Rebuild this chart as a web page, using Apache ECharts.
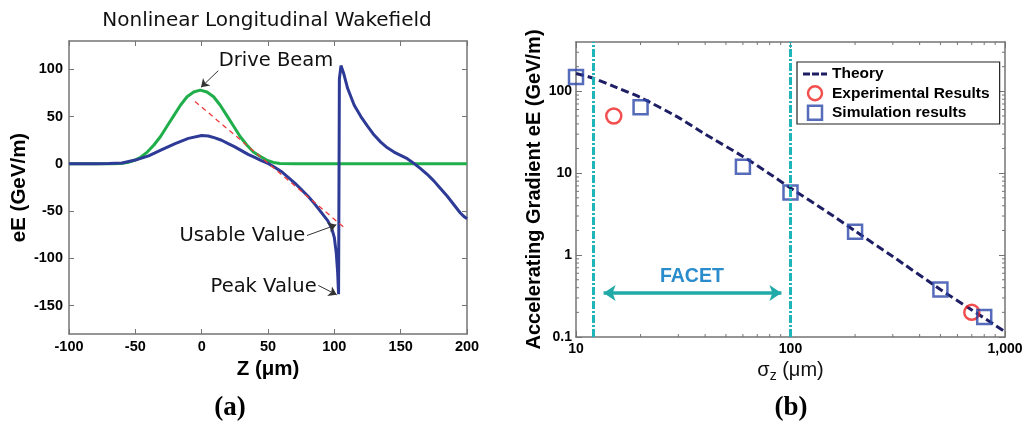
<!DOCTYPE html>
<html><head><meta charset="utf-8">
<script src="https://cdn.jsdelivr.net/npm/echarts@6/dist/echarts.min.js"></script>
<style>html,body{margin:0;padding:0;background:#fff}#c{width:1026px;height:425px}</style>
</head><body><div id="c"></div>
<script>
// ---------- Panel (a): Nonlinear Longitudinal Wakefield ----------
const zBlue = [-100,-80,-70,-60,-50,-40,-30,-20,-10,0,5,10,15,20,25,30,35,40,45,50,55,60,65,70,75,80,85,90,95,98,100,101.5,102.5,103.2,103.8,105,107,110,115,120,125,130,135,140,145,150,155,160,165,170,175,180,185,190,195,198,200];
const eBlue = [0,0,0.3,1,4,8.5,15,21.5,27,30,29.5,27.5,25,21.5,18,14,10,6.8,3.5,0.5,-3.5,-8,-14,-20,-27,-34,-42,-51,-60,-68,-78,-95,-115,-138,90,104,96,80,62,50,40,30.5,23,17,12.5,9,5.5,0.5,-5,-11,-18,-26,-34,-43,-52,-56,-58];
const zGreen = [-100,-70,-61,-56,-51,-46,-41,-36,-31,-26,-21,-16,-11,-6,-1,4,9,14,19,24,29,34,39,44,49,54,59,70,200];
const eGreen = [0,0,0.5,1.5,3.5,7,12.5,20,29,40,51,62,71,76,78,76,71,62,51,40,29,20,12.5,8,4,1.5,0.5,0,0];
const zUsable = [-5,108];
const eUsable = [66,-68];
const xTicksA = [-100,-50,0,50,100,150,200];
const yTicksA = [-150,-100,-50,0,50,100];

// ---------- Panel (b): gradient vs bunch length ----------
const sigmaTheory = [10,12,15,20,30,40,60,80,100,150,200,300,500,700,1000];
const eTheory = [165,145,115,84,48,30,16,9.8,6.6,3.3,1.97,0.96,0.38,0.214,0.116];
const sigmaExp = [15,700];
const eExp = [50,0.2];
const sigmaSim = [10,20,60,100,200,500,800];
const eSim = [150,64,12,5.8,1.93,0.38,0.176];
const facetLimits = [12,100];
const facetArrow = [13.45,90.7];
const facetArrowLevel = 0.345;
const xTicksB = [10,100,1000];
const yTicksB = [0.1,1,10,100];
const xMinorB = [20,30,40,50,60,70,80,90,200,300,400,500,600,700,800,900];
const yMinorB = [0.2,0.3,0.4,0.5,0.6,0.7,0.8,0.9,2,3,4,5,6,7,8,9,20,30,40,50,60,70,80,90,200,300];

const FS = 'Liberation Sans';
const frame = '#747474';
const pairs = (xs, ys) => xs.map((x, i) => [x, ys[i]]);

const chart = echarts.init(document.getElementById('c'), null, {renderer: 'canvas', width: 1026, height: 425});

const boldTxt = (size) => ({fontFamily: FS, fontWeight: 'bold', fontSize: size, color: '#000'});
const axisBase = (extra) => Object.assign({
  axisLine: {show: true, onZero: false, lineStyle: {color: frame, width: 1.5}},
  axisTick: {show: true, inside: true, length: 5, lineStyle: {color: frame, width: 1}},
  splitLine: {show: false},
  minorTick: {show: false}
}, extra);

function minorTickSeries(values, dir) {
  return {
    type: 'custom', xAxisIndex: 2, yAxisIndex: 2, silent: true, clip: false, z: 5,
    data: values.map(v => dir === 'x' ? [v, 1] : [10, v]),
    renderItem: function (params, api) {
      const cs = params.coordSys;
      const p = api.coord([api.value(0), api.value(1)]);
      const st = {stroke: frame, lineWidth: 1};
      if (dir === 'x') {
        return {type: 'group', children: [
          {type: 'line', shape: {x1: p[0], y1: cs.y + cs.height, x2: p[0], y2: cs.y + cs.height - 3}, style: st},
          {type: 'line', shape: {x1: p[0], y1: cs.y, x2: p[0], y2: cs.y + 3}, style: st}
        ]};
      }
      return {type: 'group', children: [
        {type: 'line', shape: {x1: cs.x, y1: p[1], x2: cs.x + 3, y2: p[1]}, style: st},
        {type: 'line', shape: {x1: cs.x + cs.width, y1: p[1], x2: cs.x + cs.width - 3, y2: p[1]}, style: st}
      ]};
    }
  };
}

const annFont = {fontFamily: 'DejaVu Sans', fontSize: 19.5, color: '#111'};
const arrowLine = (a, b) => [{coord: a}, {coord: b}];
const textPoint = (coord, text) => ({coord: coord, value: text, label: {show: true, position: 'inside', formatter: text}});

const theoryColor = '#1e1e64';

const option = {
  animation: false,
  backgroundColor: '#fff',
  title: [
    {text: 'Nonlinear Longitudinal Wakefield', left: 267, top: 11, padding: 0, textAlign: 'center',
     textStyle: {fontFamily: 'DejaVu Sans', fontSize: 20, fontWeight: 'normal', color: '#111'}},
    {text: '(a)', left: 230, top: 395, padding: 0, textAlign: 'center',
     textStyle: {fontFamily: 'Liberation Serif', fontSize: 27, fontWeight: 'bold', color: '#000'}},
    {text: '(b)', left: 791, top: 395, padding: 0, textAlign: 'center',
     textStyle: {fontFamily: 'Liberation Serif', fontSize: 27, fontWeight: 'bold', color: '#000'}}
  ],
  legend: {
    data: [
      {name: 'Theory', icon: 'path://M0,0H7V3H0Z M9,0H16V3H9Z M18,0H24V3H18Z', itemStyle: {color: theoryColor, borderWidth: 0}},
      {name: 'Experimental Results', icon: 'circle'},
      {name: 'Simulation results', icon: 'path://M0,0H14V14H0Z'}
    ],
    orient: 'vertical', left: 797, top: 62, padding: [4, 10, 3, 6], itemGap: 3,
    itemWidth: 24, itemHeight: 14, backgroundColor: '#fff', borderColor: '#222', borderWidth: 1.2,
    selectedMode: false,
    textStyle: boldTxt(15.5),
    itemStyle: {borderWidth: 2.5}
  },
  grid: [
    {left: 69, top: 41, width: 398, height: 293},
    {left: 576, top: 42, width: 429, height: 295}
  ],
  xAxis: [
    axisBase({gridIndex: 0, type: 'value', min: -100, max: 200, interval: 50, position: 'bottom',
      axisLabel: Object.assign({margin: 5, customValues: xTicksA}, boldTxt(14.5)),
      name: 'Z (μm)', nameLocation: 'middle', nameGap: 20, nameTextStyle: boldTxt(20.5)}),
    axisBase({gridIndex: 0, type: 'value', min: -100, max: 200, interval: 50, position: 'top',
      axisLabel: {show: false}}),
    axisBase({gridIndex: 1, type: 'log', logBase: 10, min: 10, max: 1000, position: 'bottom',
      axisTick: {show: true, inside: true, length: 6, lineStyle: {color: frame}, customValues: xTicksB},
      axisLabel: Object.assign({margin: 5, customValues: xTicksB,
        formatter: v => { const r = Math.round(v); return r === 1000 ? '1,000' : String(r); }}, boldTxt(14)),
      name: '{a|σ}{s|z}{a| (μm)}', nameLocation: 'middle', nameGap: 17,
      nameTextStyle: {rich: {a: {fontFamily: FS, fontSize: 20, color: '#111'}, s: {fontFamily: FS, fontSize: 14, color: '#111', padding: [10, 0, 0, 0]}}}}),
    axisBase({gridIndex: 1, type: 'log', logBase: 10, min: 10, max: 1000, position: 'top',
      axisTick: {show: true, inside: true, length: 6, lineStyle: {color: frame}, customValues: xTicksB},
      axisLabel: {show: false}})
  ],
  yAxis: [
    axisBase({gridIndex: 0, type: 'value', min: -180, max: 130, position: 'left',
      axisTick: {show: true, inside: true, length: 5, lineStyle: {color: frame}, customValues: yTicksA},
      axisLabel: Object.assign({margin: 6, customValues: yTicksA}, boldTxt(14.5)),
      name: 'eE (GeV/m)', nameLocation: 'middle', nameGap: 35, nameTextStyle: boldTxt(20.5)}),
    axisBase({gridIndex: 0, type: 'value', min: -180, max: 130, position: 'right',
      axisTick: {show: true, inside: true, length: 5, lineStyle: {color: frame}, customValues: yTicksA},
      axisLabel: {show: false}}),
    axisBase({gridIndex: 1, type: 'log', logBase: 10, min: 0.1, max: 400, position: 'left',
      axisTick: {show: true, inside: true, length: 6, lineStyle: {color: frame}, customValues: yTicksB},
      axisLabel: Object.assign({margin: 4, customValues: yTicksB,
        formatter: v => v >= 1 ? String(Math.round(v)) : String(+v.toFixed(1))}, boldTxt(14)),
      name: 'Accelerating Gradient eE (GeV/m)', nameLocation: 'middle', nameGap: 32, nameTextStyle: boldTxt(20)}),
    axisBase({gridIndex: 1, type: 'log', logBase: 10, min: 0.1, max: 400, position: 'right',
      axisTick: {show: true, inside: true, length: 6, lineStyle: {color: frame}, customValues: yTicksB},
      axisLabel: {show: false}})
  ],
  series: [
    // ---- panel (a)
    {name: 'Drive beam', type: 'line', xAxisIndex: 0, yAxisIndex: 0, data: pairs(zGreen, eGreen),
     showSymbol: false, symbol: 'none', z: 2, lineStyle: {color: '#1fae4a', width: 3}},
    {name: 'Wakefield', type: 'line', xAxisIndex: 0, yAxisIndex: 0, data: pairs(zBlue, eBlue),
     showSymbol: false, symbol: 'none', z: 3, lineStyle: {color: '#2d3a96', width: 3}},
    {name: 'Usable slope', type: 'line', xAxisIndex: 0, yAxisIndex: 0, data: pairs(zUsable, eUsable),
     showSymbol: false, symbol: 'none', z: 4, lineStyle: {color: '#f03a3a', width: 1.3, type: [5, 4]}},
    {name: 'annA', type: 'line', xAxisIndex: 0, yAxisIndex: 0, data: [], z: 6, silent: true,
     markLine: {silent: true, symbol: ['none', 'arrow'], symbolSize: 8, label: {show: false},
       lineStyle: {color: '#333', width: 1, type: 'solid'},
       data: [arrowLine([12.5, 98.6], [-0.5, 81]), arrowLine([79.4, -75.8], [101.5, -64.5]), arrowLine([87.9, -128.6], [101.8, -138.5])]},
     markPoint: {silent: true, symbol: 'circle', symbolSize: 1, itemStyle: {color: 'transparent'},
       label: Object.assign({show: true, position: 'inside'}, annFont),
       data: [textPoint([56, 109], 'Drive Beam'), textPoint([30.7, -75.8], 'Usable Value'), textPoint([46.7, -129.7], 'Peak Value')]}},
    // ---- panel (b)
    {name: 'Theory', type: 'line', xAxisIndex: 2, yAxisIndex: 2, data: pairs(sigmaTheory, eTheory),
     showSymbol: false, symbol: 'none', smooth: 0.2, z: 3, itemStyle: {color: theoryColor},
     lineStyle: {color: theoryColor, width: 3, type: [8, 4]}},
    {name: 'Experimental Results', type: 'scatter', xAxisIndex: 2, yAxisIndex: 2, data: pairs(sigmaExp, eExp),
     symbol: 'circle', symbolSize: 15, z: 4, itemStyle: {color: 'transparent', borderColor: '#ee2222', borderWidth: 2.5}},
    {name: 'Simulation results', type: 'scatter', xAxisIndex: 2, yAxisIndex: 2, data: pairs(sigmaSim, eSim),
     symbol: 'rect', symbolSize: 14, z: 4, itemStyle: {color: 'transparent', borderColor: '#2c46a8', borderWidth: 2.5}},
    {name: 'facet', type: 'line', xAxisIndex: 2, yAxisIndex: 2, data: [], z: 2, silent: true,
     markLine: {silent: true, symbol: 'none', label: {show: false},
       lineStyle: {color: '#1fb4b8', width: 3, type: [8, 2, 2, 2]},
       data: facetLimits.map(v => ({xAxis: v}))}},
    {name: 'facetArrow', type: 'line', xAxisIndex: 2, yAxisIndex: 2, data: [], z: 2, silent: true,
     markLine: {silent: true, symbol: ['arrow', 'arrow'], symbolSize: 12, label: {show: false},
       lineStyle: {color: '#22aaa8', width: 3.5, type: 'solid'},
       data: [arrowLine([facetArrow[0], facetArrowLevel], [facetArrow[1], facetArrowLevel])]},
     markPoint: {silent: true, symbol: 'circle', symbolSize: 1, itemStyle: {color: 'transparent'},
       label: {show: true, position: 'inside', fontFamily: FS, fontWeight: 'bold', fontSize: 19.5, color: '#2a8ccc'},
       data: [textPoint([34.7, 0.54], 'FACET')]}},
    minorTickSeries(xMinorB, 'x'),
    minorTickSeries(yMinorB, 'y')
  ]
};
chart.setOption(option);
</script></body></html>
